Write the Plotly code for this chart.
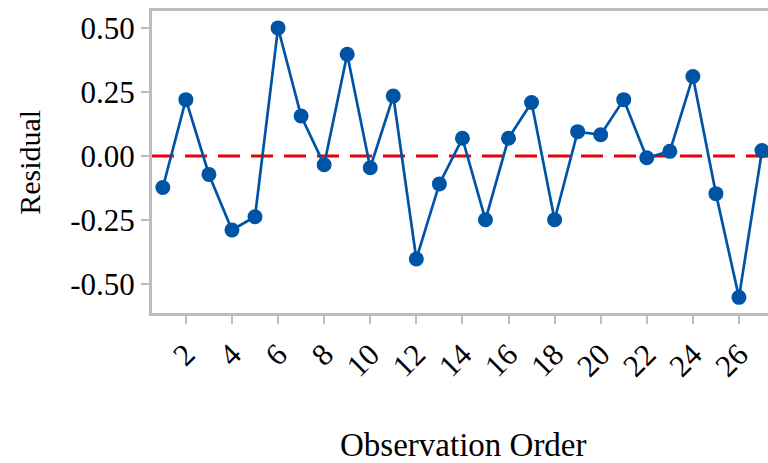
import plotly.graph_objects as go

order = list(range(1, 28))
residuals = [-0.123, 0.220, -0.072, -0.289, -0.237, 0.500, 0.156, -0.034, 0.397, -0.046,
             0.234, -0.402, -0.109, 0.069, -0.249, 0.069, 0.209, -0.249, 0.095, 0.083,
             0.220, -0.007, 0.018, 0.310, -0.147, -0.552, 0.021]
y_tickvals = [0.5, 0.25, 0.0, -0.25, -0.5]
y_ticktext = ["0.50", "0.25", "0.00", "-0.25", "-0.50"]
x_tickvals = list(range(2, 27, 2))

BLUE = "#0054A6"
GRAY = "#BDBDBD"
FONT = "'Liberation Serif', 'Times New Roman', 'DejaVu Serif', serif"

fig = go.Figure()
fig.add_trace(go.Scatter(
    x=order, y=residuals, mode="lines+markers",
    line=dict(color=BLUE, width=2.7),
    marker=dict(color=BLUE, size=15),
    cliponaxis=False,
))

fig.add_shape(type="line", xref="paper", x0=0, x1=1, yref="y", y0=0, y1=0,
              line=dict(color="#E8000B", width=3.2, dash="22px,11px"), layer="below")

fig.update_layout(
    width=768, height=463,
    margin=dict(l=152, r=0, t=11, b=150),
    paper_bgcolor="white", plot_bgcolor="white",
    showlegend=False,
    font=dict(family=FONT, color="black"),
    xaxis=dict(range=[0.53, 27.26], tickvals=x_tickvals, tickangle=-45,
               tickfont=dict(size=31, family=FONT), showgrid=False, zeroline=False,
               showline=True, linecolor=GRAY, linewidth=3, mirror=True,
               ticks="outside", ticklen=8, tickwidth=2, tickcolor=GRAY),
    yaxis=dict(range=[-0.613, 0.566], tickvals=y_tickvals, ticktext=y_ticktext,
               tickfont=dict(size=31, family=FONT), showgrid=False, zeroline=False,
               showline=True, linecolor=GRAY, linewidth=3,
               ticks="outside", ticklen=8, tickwidth=2, tickcolor=GRAY),
    annotations=[
        dict(text="Observation Order", xref="paper", yref="paper", x=0.505, y=-0.438,
             xanchor="center", yanchor="middle", showarrow=False,
             font=dict(size=33, family=FONT, color="black")),
        dict(text="Residual", xref="paper", yref="paper", x=-0.2, y=0.5,
             xanchor="center", yanchor="middle", textangle=-90, showarrow=False,
             font=dict(size=30, family=FONT, color="black")),
    ],
)

fig.write_html("out.html")
